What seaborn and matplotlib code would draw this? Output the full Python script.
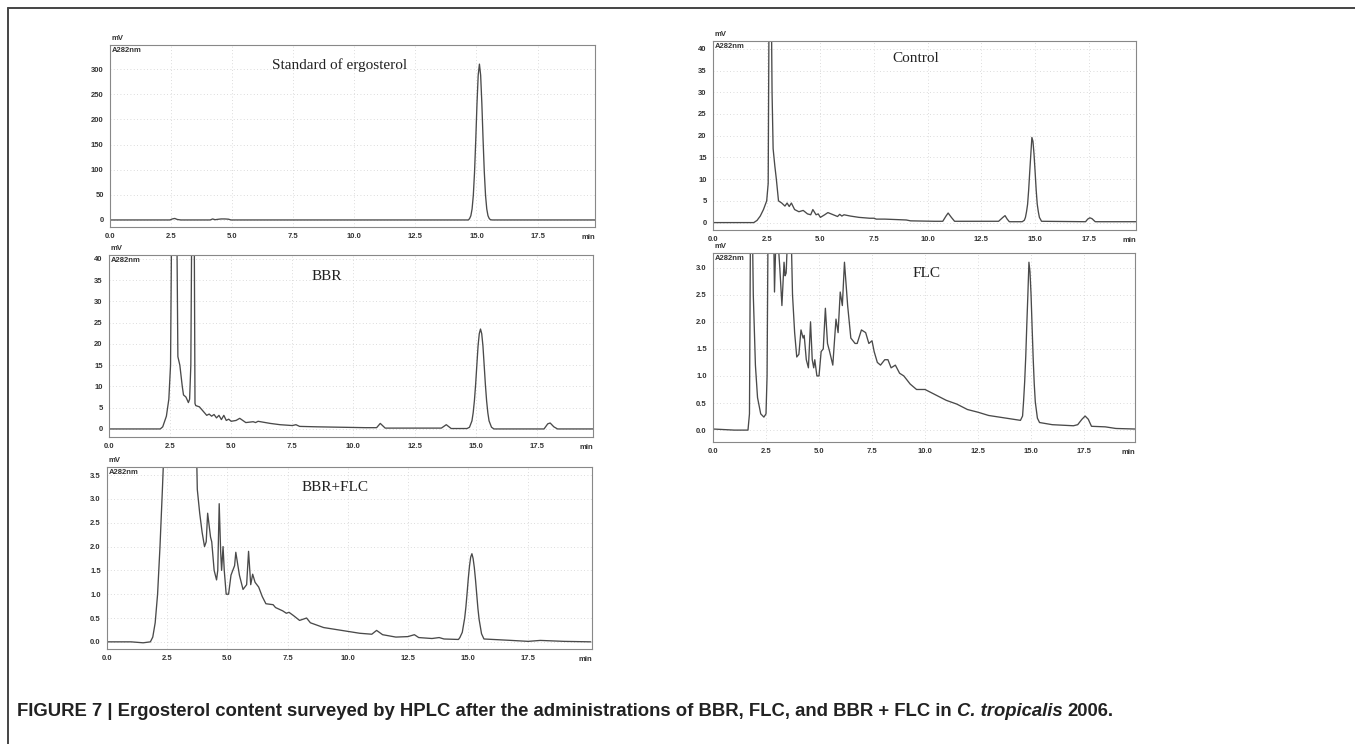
import numpy as np
import pandas as pd
import seaborn as sns
import matplotlib.pyplot as plt
from matplotlib.ticker import MultipleLocator, FormatStrFormatter

sns.set_style("white")
plt.rcParams['font.family'] = ['Liberation Sans', 'DejaVu Sans']
plt.rcParams['font.weight'] = 'bold'

# retention time (min) and detector signal (mV)
std_t = [0.0, 2.45, 2.55, 2.65, 2.75, 2.9, 4.1, 4.2, 4.3, 4.45, 4.55, 4.7, 4.85, 4.95, 14.67,
         14.72, 14.77, 14.82, 14.87, 14.92, 14.97, 15.02, 15.07, 15.12, 15.17, 15.22, 15.27,
         15.32, 15.37, 15.42, 15.47, 15.52, 15.57, 15.65, 19.9]
std_mv = [0, 0, 2, 3, 1, 0, 0, 2, 0.5, 1.5, 2, 2, 1.5, 0, 0,
          3, 8.5, 22, 49, 95, 159, 231, 288, 310, 288, 231, 159,
          95, 49, 22, 8.5, 3, 0.5, 0, 0]

ctl_t = [0.0, 1.9, 2.05, 2.2, 2.35, 2.5, 2.57, 2.62, 2.7, 2.75, 2.8, 2.88, 2.95, 3.05, 3.2, 3.35,
         3.45, 3.55, 3.65, 3.8, 4.0, 4.2, 4.4, 4.55, 4.65, 4.8, 4.9, 5.0, 5.2, 5.35, 5.6, 5.8,
         5.9, 6.0, 6.1, 6.4, 6.8, 7.3, 7.5, 7.6, 8.0, 9.0, 9.2, 10.3, 10.7, 10.85, 10.95, 11.1,
         11.25, 13.3, 13.5, 13.6, 13.7, 13.8, 14.4, 14.5, 14.55, 14.6, 14.65, 14.7, 14.75, 14.8,
         14.85, 14.9, 14.95, 15.0, 15.05, 15.1, 15.15, 15.2, 15.3, 17.35, 17.45, 17.55, 17.65,
         17.8, 19.7]
ctl_mv = [0, 0, 0.5, 1.5, 3, 5, 9, 60, 60, 30, 17, 13, 10, 5, 4.5, 3.8,
          4.5, 3.7, 4.5, 3.0, 2.5, 2.8, 2.0, 1.8, 3.0, 1.8, 2.0, 1.2, 1.8, 2.3, 1.8, 1.4,
          1.9, 1.5, 1.8, 1.5, 1.2, 1.0, 1.0, 0.8, 0.8, 0.6, 0.4, 0.3, 0.3, 1.5, 2.2, 1.2,
          0.3, 0.3, 1.2, 1.6, 0.8, 0.2, 0.2, 0.55, 1.2, 2.5, 4.2, 7.5, 11.7, 15.7,
          19.6, 18.7, 15.7, 11.7, 7.5, 4.2, 2.5, 1.2, 0.3, 0.2, 0.8, 1.1, 0.9,
          0.2, 0.2]

bbr_t = [0.0, 2.1, 2.2, 2.35, 2.45, 2.52, 2.58, 2.68, 2.76, 2.82, 2.9, 3.0, 3.05, 3.15, 3.25,
         3.3, 3.35, 3.4, 3.48, 3.52, 3.55, 3.7, 3.85, 4.0, 4.1, 4.2, 4.3, 4.4, 4.5, 4.6, 4.7,
         4.8, 4.9, 5.0, 5.2, 5.35, 5.6, 5.9, 6.0, 6.1, 6.3, 6.6, 7.0, 7.5, 7.65, 7.8, 8.5,
         10.5, 10.95, 11.1, 11.3, 13.6, 13.8, 14.0, 14.65, 14.75, 14.85, 14.9, 14.95, 15.0,
         15.05, 15.1, 15.15, 15.2, 15.25, 15.3, 15.35, 15.4, 15.45, 15.5, 15.55, 15.65, 15.75,
         17.8, 17.95, 18.05, 18.2, 18.35, 19.8]
bbr_mv = [0, 0, 0.5, 3, 7, 15, 60, 80, 60, 17, 15, 10, 8, 7.5, 6.2,
          7, 15, 60, 60, 6, 5.5, 5.2, 4.2, 3.2, 3.5, 3.0, 3.4, 2.6, 3.2, 2.2, 3.2,
          2.0, 2.3, 1.8, 2.0, 2.5, 1.5, 1.7, 1.5, 1.8, 1.6, 1.3, 1.0, 0.8, 1.0, 0.6, 0.5,
          0.3, 0.3, 1.3, 0.2, 0.2, 1.0, 0.1, 0.1, 0.4, 1.9, 3.8, 6.6, 10.4,
          15.0, 19.5, 22.4, 23.5, 22.4, 19.5, 15.0, 10.4, 6.6, 3.8, 1.9, 0.4, 0,
          0, 1.2, 1.4, 0.5, 0, 0]

flc_t = [0.0, 1.0, 1.65, 1.72, 1.77, 1.85, 1.9, 2.0, 2.1, 2.25, 2.4, 2.5, 2.55, 2.6, 2.85,
         2.9, 2.95, 3.1, 3.15, 3.25, 3.35, 3.4, 3.45, 3.5, 3.7, 3.75, 3.85, 3.95, 4.05, 4.15,
         4.25, 4.3, 4.4, 4.5, 4.6, 4.68, 4.75, 4.8, 4.9, 5.0, 5.1, 5.2, 5.3, 5.4, 5.5, 5.65,
         5.8, 5.9, 6.0, 6.1, 6.2, 6.35, 6.5, 6.7, 6.8, 7.0, 7.2, 7.35, 7.5, 7.6, 7.75, 7.9,
         8.1, 8.25, 8.4, 8.6, 8.8, 9.0, 9.3, 9.6, 10.0, 10.5, 11.0, 11.5, 12.0, 12.5, 13.0,
         13.5, 14.0, 14.5, 14.6, 14.65, 14.7, 14.75, 14.8, 14.85, 14.9, 14.95, 15.0, 15.05,
         15.1, 15.15, 15.2, 15.3, 15.4, 16.0, 16.5, 17.0, 17.2, 17.4, 17.55, 17.7, 17.85, 18.5,
         19.0, 19.9]
flc_mv = [0.02, 0.0, 0.0, 0.3, 4.0, 4.0, 2.5, 1.2, 0.6, 0.3, 0.24, 0.3, 1.0, 4.0, 4.0,
          2.55, 3.3, 3.3, 3.0, 2.3, 3.1, 2.85, 2.9, 3.4, 3.4, 2.5, 1.8, 1.35, 1.4, 1.85,
          1.7, 1.75, 1.3, 1.15, 2.0, 1.3, 1.15, 1.3, 1.0, 1.0, 1.45, 1.5, 2.25, 1.6, 1.45, 1.2,
          2.05, 1.8, 2.55, 2.3, 3.1, 2.3, 1.7, 1.6, 1.6, 1.85, 1.8, 1.6, 1.65, 1.45, 1.25, 1.2,
          1.3, 1.3, 1.15, 1.2, 1.05, 1.0, 0.85, 0.75, 0.75, 0.65, 0.55, 0.48, 0.38, 0.33, 0.27,
          0.24, 0.21, 0.18, 0.26, 0.55, 0.9, 1.36, 1.95, 2.5, 3.1, 2.92, 2.5, 1.9,
          1.33, 0.86, 0.52, 0.22, 0.14, 0.1, 0.09, 0.08, 0.1, 0.2, 0.26, 0.2, 0.07, 0.06,
          0.03, 0.02]

mix_t = [0.0, 1.0, 1.5, 1.8, 1.9, 2.0, 2.1, 2.2, 2.3, 2.4, 3.7, 3.75, 3.85, 3.95, 4.05, 4.12,
         4.18, 4.3, 4.35, 4.45, 4.55, 4.6, 4.66, 4.72, 4.76, 4.82, 4.87, 4.95, 5.05, 5.15, 5.3,
         5.35, 5.5, 5.65, 5.8, 5.88, 5.97, 6.05, 6.15, 6.3, 6.45, 6.6, 6.9, 7.0, 7.3, 7.45,
         7.56, 7.75, 8.0, 8.29, 8.45, 9.0, 9.5, 10.0, 10.5, 11.0, 11.2, 11.45, 12.0, 12.5, 12.77,
         12.95, 13.5, 13.8, 14.0, 14.6, 14.66, 14.76, 14.86, 14.91, 14.96, 15.01, 15.06, 15.11,
         15.16, 15.21, 15.26, 15.31, 15.36, 15.41, 15.46, 15.56, 15.66, 16.8, 17.5, 18.0, 19.0,
         20.1]
mix_mv = [0.0, 0.0, -0.02, 0.0, 0.1, 0.4, 1.0, 2.0, 3.2, 4.5, 4.5, 3.2, 2.7, 2.3, 2.0, 2.1,
          2.7, 2.2, 2.1, 1.5, 1.3, 1.5, 2.9, 1.9, 1.5, 2.0, 1.5, 1.0, 1.0, 1.4, 1.6,
          1.88, 1.4, 1.1, 1.2, 1.9, 1.2, 1.42, 1.25, 1.15, 0.95, 0.8, 0.78, 0.72, 0.65, 0.6,
          0.62, 0.55, 0.45, 0.5, 0.4, 0.3, 0.26, 0.22, 0.18, 0.16, 0.24, 0.15, 0.1, 0.11, 0.15,
          0.09, 0.07, 0.09, 0.06, 0.05, 0.09, 0.2, 0.5, 0.73, 1.02, 1.33, 1.59, 1.78,
          1.85, 1.75, 1.56, 1.3, 1.0, 0.7, 0.47, 0.17, 0.06, 0.03, 0.01, 0.03, 0.01,
          0.0]

titles = ["Standard of ergosterol", "Control", "BBR", "FLC", "BBR+FLC"]
traces = [(std_t, std_mv), (ctl_t, ctl_mv), (bbr_t, bbr_mv), (flc_t, flc_mv), (mix_t, mix_mv)]

# layout per panel: axes rect (figure fraction), ylim, y major step, y format, x max, title pos
panels = [
    dict(rect=[0.0812, 0.6949, 0.3579, 0.2446], ylim=(-14, 348), ystep=50, fmt='%d', xmax=19.85, tpos=(0.474, 0.89)),
    dict(rect=[0.5262, 0.6909, 0.3122, 0.2540], ylim=(-1.7, 41.8), ystep=5, fmt='%d', xmax=19.7, tpos=(0.48, 0.91)),
    dict(rect=[0.0804, 0.4126, 0.3572, 0.2446], ylim=(-1.9, 40.9), ystep=5, fmt='%d', xmax=19.8, tpos=(0.45, 0.88)),
    dict(rect=[0.5262, 0.4059, 0.3114, 0.2540], ylim=(-0.22, 3.27), ystep=0.5, fmt='%.1f', xmax=19.9, tpos=(0.507, 0.894)),
    dict(rect=[0.0790, 0.1277, 0.3579, 0.2446], ylim=(-0.15, 3.67), ystep=0.5, fmt='%.1f', xmax=20.15, tpos=(0.47, 0.89)),
]

fig = plt.figure(figsize=(13.55, 7.44), dpi=100)

for title, (t, mv), p in zip(titles, traces, panels):
    ax = fig.add_axes(p['rect'])
    df = pd.DataFrame({'min': t, 'mV': mv})
    sns.lineplot(data=df, x='min', y='mV', ax=ax, color='#4a4a4a', lw=0.95,
                 estimator=None, sort=False)
    ax.set_xlim(0, p['xmax'])
    ax.set_ylim(*p['ylim'])
    ax.set_xticks(np.arange(0, 17.6, 2.5))
    ax.xaxis.set_minor_locator(MultipleLocator(0.5))
    ax.xaxis.set_major_formatter(FormatStrFormatter('%.1f'))
    ax.yaxis.set_major_locator(MultipleLocator(p['ystep']))
    ax.yaxis.set_minor_locator(MultipleLocator(p['ystep'] / 5))
    ax.yaxis.set_major_formatter(FormatStrFormatter(p['fmt']))
    ax.set_xlabel('')
    ax.set_ylabel('')
    ax.tick_params(which='major', direction='out', length=3, width=0.6, pad=1.5,
                   labelsize=5.5, colors='#333333')
    ax.tick_params(which='minor', direction='out', length=1.6, width=0.5, colors='#555555')
    ax.grid(True, which='major', ls=(0, (1, 3)), color='#d0d0d0', lw=0.6)
    for s in ax.spines.values():
        s.set_color('#888888')
        s.set_linewidth(0.8)
    ax.text(p['tpos'][0], p['tpos'][1], title, transform=ax.transAxes, ha='center', va='center',
            fontsize=11, family='Liberation Serif', weight='normal', color='#222222')
    ax.annotate('mV', xy=(0, 1), xycoords='axes fraction', xytext=(1, 2), textcoords='offset points',
                ha='left', va='bottom', fontsize=5.5, color='#333333')
    ax.annotate('A282nm', xy=(0, 1), xycoords='axes fraction', xytext=(1.5, -1.5),
                textcoords='offset points', ha='left', va='top', fontsize=5.5, color='#333333')
    ax.annotate('min', xy=(1, 0), xycoords='axes fraction', xytext=(0, -5), textcoords='offset points',
                ha='right', va='top', fontsize=5.5, color='#333333')

# open frame of the figure (top and left edges)
fig.add_artist(plt.Line2D([8 / 1355, 1], [1 - 8 / 744, 1 - 8 / 744], color='#444444', lw=1.4))
fig.add_artist(plt.Line2D([8 / 1355, 8 / 1355], [0, 1 - 8 / 744], color='#444444', lw=1.4))

# caption with italic species name
cap_y = 1 - 712 / 744
cap_size = 13.3
renderer = fig.canvas.get_renderer()
t1 = fig.text(17 / 1355, cap_y, "FIGURE 7 | Ergosterol content surveyed by HPLC after the administrations of "
              "BBR, FLC, and BBR + FLC in", fontsize=cap_size, weight='bold', color='#222222', va='center')
x1 = t1.get_window_extent(renderer).x1 + 5
t2 = fig.text(x1 / fig.bbox.width, cap_y, "C. tropicalis", fontsize=cap_size, weight='bold', style='italic',
              color='#222222', va='center')
x2 = t2.get_window_extent(renderer).x1 + 5
fig.text(x2 / fig.bbox.width, cap_y, "2006.", fontsize=cap_size, weight='bold', color='#222222', va='center')

fig.savefig('out.png', dpi=100)
